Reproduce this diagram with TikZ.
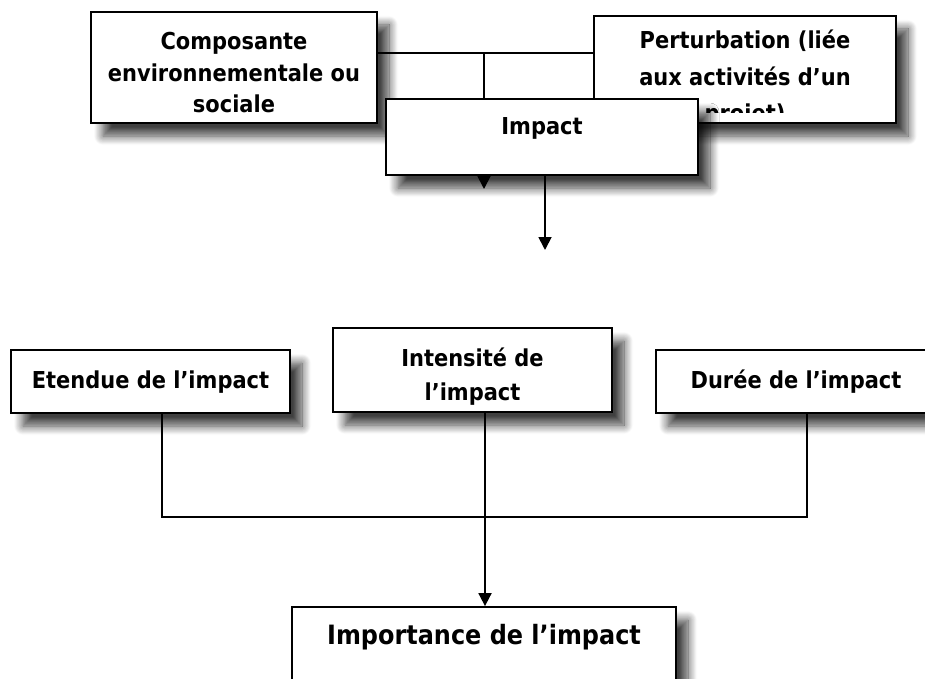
\documentclass[tikz,border=0pt]{standalone}
\usepackage{fontspec}
\setmainfont{DejaVu Sans}[FakeStretch=0.9]
\usetikzlibrary{arrows.meta,shadows.blur}

\begin{document}
\begin{tikzpicture}
        [x=1pt,y=-1pt,line width=1.8pt,
         box/.style={draw,fill=white,align=center,inner sep=0pt,text height=16pt,
           font=\fontsize{23.3}{31.5}\selectfont\bfseries,
           blur shadow={shadow xshift=12pt,shadow yshift=-13pt,
             shadow blur radius=9pt,shadow blur steps=12,shadow opacity=75}},
         tip/.style={-{Triangle[width=13pt,length=13pt]}}]
        \useasboundingbox (0,0) rectangle (925,679);
        %-----haut
         \node[box,minimum width=286pt,minimum height=111pt,text height=91pt,text depth=0pt] (comp) at (234,67.5)
           {Composante\\environnementale ou\\sociale};
         \node[box,minimum width=302pt,minimum height=107pt,text height=32pt,text depth=0pt,
           font=\fontsize{23.3}{36.5}\selectfont\bfseries] (pert) at (745,69.5)
           {Perturbation (liée\\aux activités d’un};
         \begin{scope}
         \clip (pert.north west) rectangle ([yshift=11pt]pert.south east);
         \node[anchor=base,font=\fontsize{23.3}{36.5}\selectfont\bfseries] (projet) at (745,122) {projet)};
         \end{scope}
         \node[box,minimum width=312pt,minimum height=76pt,text depth=20pt] (impact) at (542,137) {Impact};

         \coordinate (jct) at (484,53);
         \coordinate (jctend) at (484,189);
         \coordinate (impend) at (545,250);
         \draw (comp.east |- jct) -- (pert.west |- jct);
         \draw (jct) -- (jct |- impact.north);
         \draw[tip] (jct |- impact.south) -- (jctend);
         \draw[tip] (impend |- impact.south) -- (impend);

        %-----bas
         \node[box,minimum width=279pt,minimum height=63pt,text depth=3pt] (etendue) at (150.5,381.5) {Etendue de l’impact};
         \node[box,minimum width=279pt,minimum height=84pt,text height=60pt,text depth=0pt,
           font=\fontsize{23.3}{34}\selectfont\bfseries] (intens) at (472.5,370) {Intensité de\\l’impact};
         \node[box,minimum width=280pt,minimum height=63pt,text depth=3pt] (duree) at (796,381.5) {Durée de l’impact};
         \node[box,minimum width=384pt,minimum height=100pt,text height=18pt,text depth=44pt,
           font=\fontsize{26.6}{30}\selectfont\bfseries] (import) at (484,657) {Importance de l’impact};

         \coordinate (etx) at (162,517);
         \coordinate (bus) at (485,517);
         \coordinate (dux) at (807,517);
         \draw (etx |- etendue.south) -- (etx) -- (dux) -- (dux |- duree.south);
         \draw[tip] (bus |- intens.south) -- (bus |- import.north);

        \end{tikzpicture}
\end{document}
